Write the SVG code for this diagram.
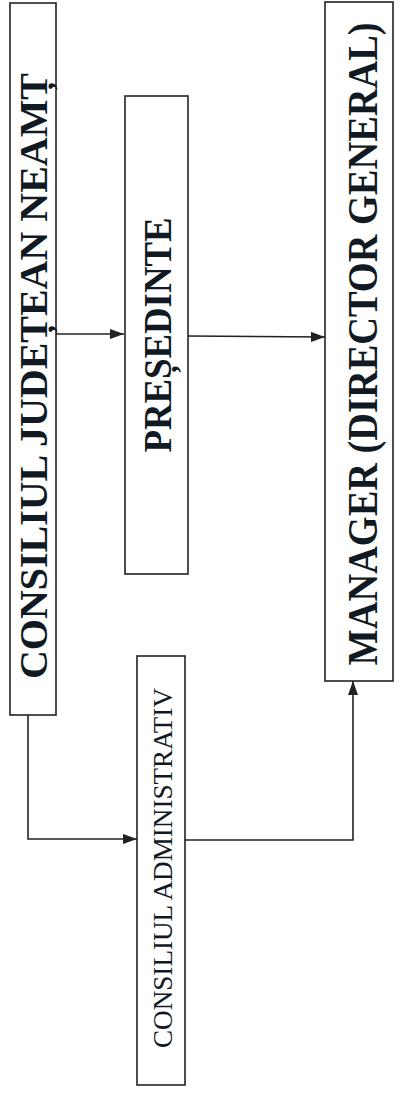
<svg xmlns="http://www.w3.org/2000/svg" width="395" height="1103" viewBox="0 0 395 1103">
<style>
.box{fill:#fff;stroke:#222;stroke-width:1.6}
.b{font-family:"Liberation Serif","Times New Roman",serif;font-weight:bold;fill:#111a22}
.r{font-family:"Liberation Serif","Times New Roman",serif;fill:#111a22}
.c{fill:none;stroke:#222;stroke-width:1.6}
</style>
<defs>
<marker id="ah" viewBox="0 0 14 10" refX="14" refY="5" markerWidth="14" markerHeight="10" markerUnits="userSpaceOnUse" orient="auto">
<path d="M0,0 L14,5 L0,10 Z" fill="#222"/>
</marker>
</defs>
<rect width="395" height="1103" fill="#fff"/>
<g id="connectors">
<path class="c" d="M56,334 L124,334" marker-end="url(#ah)"/>
<path class="c" d="M188,336 L325,337" marker-end="url(#ah)"/>
<path class="c" d="M28,715 L28,839 L137,839" marker-end="url(#ah)"/>
<path class="c" d="M185,840 L353,840 L353,681" marker-end="url(#ah)"/>
</g>
<g id="consiliul-judetean">
<rect class="box" x="10" y="3" width="46" height="712"/>
<text class="b" font-size="40" transform="translate(47,376) rotate(-90)" text-anchor="middle" textLength="606" lengthAdjust="spacingAndGlyphs">CONSILIUL JUDEȚEAN NEAMȚ</text>
</g>
<g id="presedinte">
<rect class="box" x="125" y="96" width="63" height="478"/>
<text class="b" font-size="39" transform="translate(171,335) rotate(-90)" text-anchor="middle" textLength="235" lengthAdjust="spacingAndGlyphs">PREȘEDINTE</text>
</g>
<g id="manager">
<rect class="box" x="325" y="2" width="68" height="679"/>
<text class="b" font-size="43" transform="translate(377,344) rotate(-90)" text-anchor="middle" textLength="643" lengthAdjust="spacingAndGlyphs">MANAGER (DIRECTOR GENERAL)</text>
</g>
<g id="consiliul-administrativ">
<rect class="box" x="137" y="656" width="48" height="429"/>
<text class="r" font-size="28" transform="translate(172,868) rotate(-90)" text-anchor="middle" textLength="360" lengthAdjust="spacingAndGlyphs">CONSILIUL ADMINISTRATIV</text>
</g>
</svg>
